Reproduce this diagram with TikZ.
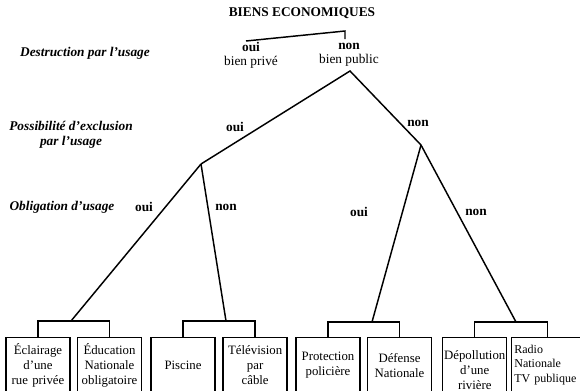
\documentclass[tikz,border=0pt]{standalone}
\usepackage{fontspec}
\setmainfont{Liberation Serif}
\usetikzlibrary{positioning}
\tikzstyle{box} = [rectangle, draw, line width=1.1pt, text width=47pt, minimum height=41pt, align=center, inner xsep=0.5pt, inner ysep=1pt, font=\fontsize{9.6}{11.25}\selectfont]
\tikzstyle{line} = [draw, line width=1.1pt]
\tikzstyle{crit} = [align=center, font=\fontsize{10}{11.25}\selectfont\bfseries\itshape]
\tikzstyle{ans} = [font=\fontsize{10}{11}\selectfont\bfseries]
\tikzstyle{kind} = [align=center, font=\fontsize{10}{10.5}\selectfont]

\begin{document}
\begin{tikzpicture}[x=0.75pt, y=-0.75pt]
    \useasboundingbox (0,0) rectangle (580,390);
    \node[font=\fontsize{10}{12}\selectfont\bfseries] (TITRE) at (302,13) {BIENS ECONOMIQUES};
    \node[crit] (DESTR) at (85,53) {Destruction par l’usage};
    \node[crit] (EXCL) at (71,135) {Possibilité d’exclusion\\par l’usage};
    \node[crit] (OBLIG) at (62,207) {Obligation d’usage};
    \node[kind] (PRIVE) at (251,55) {\textbf{oui}\\bien privé};
    \node[kind] (PUBLIC) at (349,55) {\textbf{non}\\bien public};
    \coordinate (BL) at (246,41);
    \coordinate (BR) at (345,31);
    \coordinate (BD) at (345,39);
    \coordinate (APEX) at (350,71);
    \coordinate (N1) at (201,164);
    \coordinate (N2) at (421,145);
    \coordinate (G1) at (71,321);
    \coordinate (G2) at (226,321);
    \coordinate (G3) at (372,322);
    \coordinate (G4) at (516,322);
    \node[ans] (EXCLOUI) at (235,127) {oui};
    \node[ans] (EXCLNON) at (418,123) {non};
    \node[ans] (OBLOUI1) at (144,207) {oui};
    \node[ans] (OBLNON1) at (226,207) {non};
    \node[ans] (OBLOUI2) at (359,212) {oui};
    \node[ans] (OBLNON2) at (476,212) {non};
    \node[box, anchor=north] (ECL) at (38,337) {Éclairage\\d’une\\rue privée};
    \node[box, right=4.5pt of ECL] (EDU) {Éducation\\Nationale\\obligatoire};
    \node[box, anchor=north] (PISC) at (183,337) {Piscine};
    \node[box, right=5pt of PISC] (TELE) {Télévision\\par\\câble};
    \node[box, anchor=north] (POL) at (328,337) {Protection\\policière};
    \node[box, right=4.5pt of POL] (DEF) {Défense\\Nationale};
    \node[box, minimum height=48pt, anchor=north west] (DEPOL) at (442,337) {Dépollution\\d’une\\rivière};
    \node[box, align=left, text width=50pt, inner xsep=2pt, font=\fontsize{9}{11}\selectfont, anchor=north west] (RADIO) at (511,337) {Radio\\Nationale\\TV publique};
    \path[line] (BL) -- (BR) -- (BD);
    \path[line] (N1) -- (APEX) -- (N2);
    \path[line] (N1) -- (G1);
    \path[line] (N1) -- (G2);
    \path[line] (N2) -- (G3);
    \path[line] (N2) -- (G4);
    \path[line] (ECL.north) |- (G1) -| (EDU.north);
    \path[line] (PISC.north) |- (G2) -| (TELE.north);
    \path[line] (POL.north) |- (G3) -| (DEF.north);
    \path[line] (DEPOL.north) |- (G4) -| (RADIO.north);
\end{tikzpicture}
\end{document}
